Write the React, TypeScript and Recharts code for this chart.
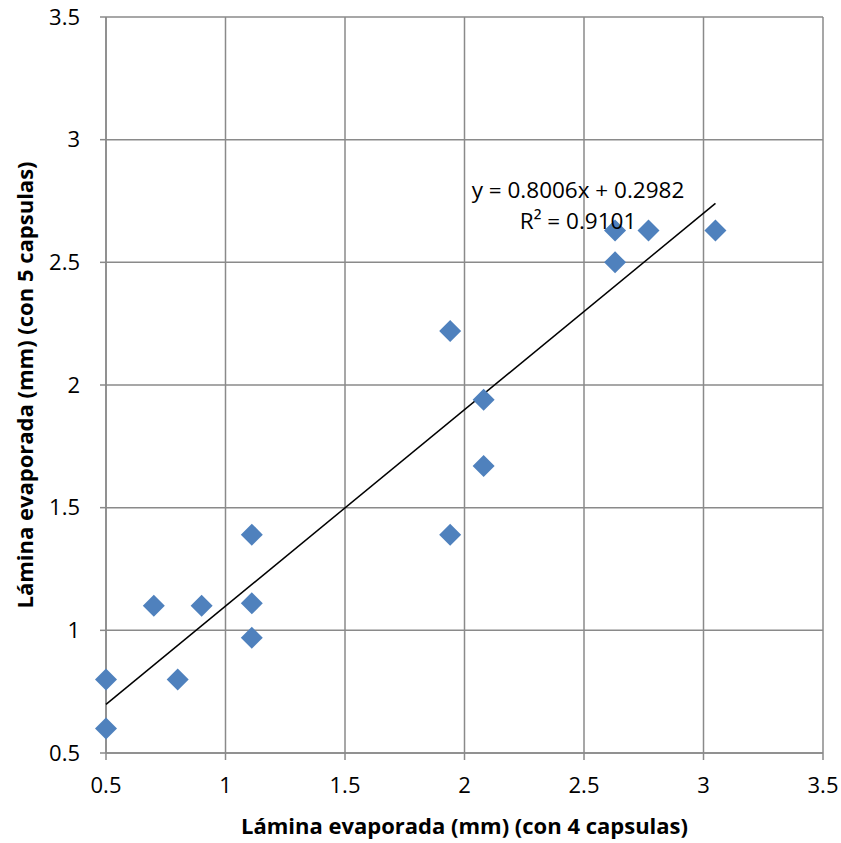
import React from "react";
import {
  CartesianGrid,
  Label,
  Scatter,
  ScatterChart,
  XAxis,
  YAxis,
} from "recharts";

// medido con 4 capsulas (x) vs 5 capsulas (y)
const lamina4 = [0.5, 0.5, 0.7, 0.8, 0.9, 1.11, 1.11, 1.11, 1.94, 1.94, 2.08, 2.08, 2.63, 2.63, 2.77, 3.05];
const lamina5 = [0.8, 0.6, 1.1, 0.8, 1.1, 1.39, 1.11, 0.97, 2.22, 1.39, 1.94, 1.67, 2.63, 2.5, 2.63, 2.63];

const ticks = [0.5, 1, 1.5, 2, 2.5, 3, 3.5];

const slope = 0.8006;
const intercept = 0.2982;
const trendX = [0.5, 3.05];

const points = lamina4.map((x, i) => ({ x, y: lamina5[i] }));
const trend = trendX.map((x) => ({ x, y: slope * x + intercept }));

const FONT = "'Open Sans', Lato, sans-serif";
const GRID = "#8a8a8a";

const Diamond = (props: any) => {
  const { cx, cy } = props;
  const r = 11;
  return (
    <polygon
      points={`${cx},${cy - r} ${cx + r},${cy} ${cx},${cy + r} ${cx - r},${cy}`}
      fill="#4F81BD"
    />
  );
};

export default function App() {
  return (
    <div
      style={{
        position: "absolute",
        left: 0,
        top: 0,
        width: 841,
        height: 843,
        background: "#fff",
        fontFamily: FONT,
      }}
    >
      <ScatterChart
        width={841}
        height={843}
        margin={{ top: 17, right: 18, bottom: 0, left: 0 }}
      >
        <CartesianGrid stroke={GRID} strokeWidth={1.5} />
        <XAxis
          type="number"
          dataKey="x"
          domain={[0.5, 3.5]}
          ticks={ticks}
          stroke={GRID}
          strokeWidth={1.5}
          tickSize={7}
          tick={{ fill: "#000", fontSize: 22, fontFamily: FONT }}
          tickMargin={17}
          height={90}
        >
          <Label
            value="Lámina evaporada (mm) (con 4 capsulas)"
            position="insideBottom"
            offset={9}
            style={{ fill: "#000", fontSize: 22, fontWeight: 700, fontFamily: FONT }}
          />
        </XAxis>
        <YAxis
          type="number"
          dataKey="y"
          domain={[0.5, 3.5]}
          ticks={ticks}
          stroke={GRID}
          strokeWidth={1.5}
          tickSize={6}
          tick={{ fill: "#000", fontSize: 22, fontFamily: FONT }}
          tickMargin={20}
          width={106}
        >
          <Label
            value="Lámina  evaporada (mm) (con 5 capsulas)"
            angle={-90}
            position="insideLeft"
            offset={25}
            style={{
              fill: "#000",
              fontSize: 22,
              fontWeight: 700,
              fontFamily: FONT,
              textAnchor: "middle",
              whiteSpace: "pre",
            }}
          />
        </YAxis>
        <Scatter
          data={trend}
          line={{ stroke: "#000", strokeWidth: 1.5 }}
          shape={() => null}
          isAnimationActive={false}
        />
        <Scatter data={points} shape={Diamond} isAnimationActive={false} />
      </ScatterChart>
      <div
        style={{
          position: "absolute",
          left: 438,
          top: 174,
          width: 280,
          textAlign: "center",
          fontSize: 22.5,
          lineHeight: "31px",
          color: "#000",
        }}
      >
        <div>y = 0.8006x + 0.2982</div>
        <div>R² = 0.9101</div>
      </div>
    </div>
  );
}
